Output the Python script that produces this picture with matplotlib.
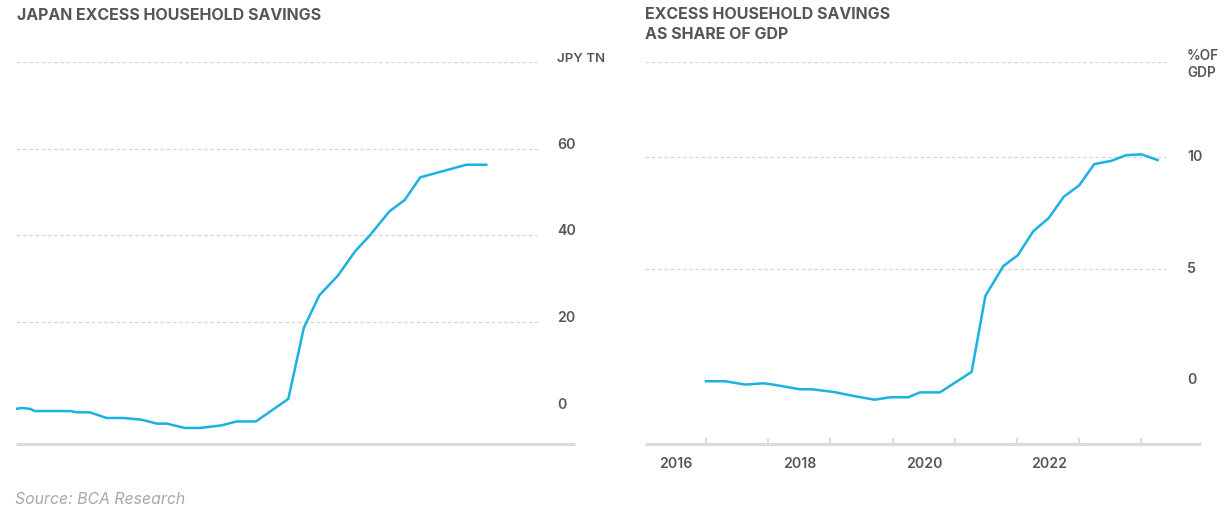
import matplotlib
matplotlib.use("Agg")
import matplotlib.pyplot as plt

# ---------------- data ----------------
left_years = [2016.00, 2016.09, 2016.22, 2016.29, 2016.84, 2016.95, 2017.14, 2017.40,
              2017.66, 2017.94, 2018.18, 2018.33, 2018.61, 2018.84, 2019.18, 2019.41,
              2019.71, 2020.21, 2020.45, 2020.69, 2020.98, 2021.24, 2021.47, 2021.77,
              2022.01, 2022.25, 2022.96, 2023.27]
left_values = [0.0, 0.2, 0.0, -0.5, -0.5, -0.8, -0.8, -2.1,
               -2.1, -2.5, -3.4, -3.4, -4.4, -4.4, -3.8, -2.9,
               -2.9, 2.3, 18.7, 26.2, 30.8, 36.3, 40.0, 45.5,
               48.2, 53.4, 56.3, 56.3]

right_years = [2016.00, 2016.31, 2016.63, 2016.92, 2017.08, 2017.51, 2017.70, 2018.05,
               2018.37, 2018.71, 2018.96, 2019.25, 2019.44, 2019.76, 2020.27, 2020.49,
               2020.78, 2021.01, 2021.26, 2021.51, 2021.75, 2022.00, 2022.24, 2022.52,
               2022.75, 2023.00, 2023.26]
right_values = [-0.06, -0.06, -0.21, -0.15, -0.21, -0.42, -0.42, -0.54,
                -0.72, -0.89, -0.78, -0.78, -0.56, -0.56, 0.36, 3.77,
                5.12, 5.60, 6.68, 7.28, 8.23, 8.75, 9.70, 9.85,
                10.10, 10.14, 9.88]

left_title = "JAPAN EXCESS HOUSEHOLD SAVINGS"
right_title = "EXCESS HOUSEHOLD SAVINGS\nAS SHARE OF GDP"
left_unit = "JPY TN"
right_unit = "%OF\nGDP"
left_yticks = [0, 20, 40, 60]
right_yticks = [0, 5, 10]
right_xticks = [2016, 2017, 2018, 2019, 2020, 2021, 2022, 2023]
right_xlabels = [2016, 2018, 2020, 2022]
source = "Source: BCA Research"

# ---------------- style ----------------
plt.rcParams["font.family"] = ["Inter", "DejaVu Sans"]
LINE = "#19b2e3"
TEXT = "#53575c"
GRID = "#d6d6d6"
BASE = "#dcdcdc"
LAB = 10.2

W, H = 1224, 512
fig = plt.figure(figsize=(W / 100, H / 100), dpi=100)

axL = fig.add_axes([16 / W, 68 / H, 522 / W, 382 / H])
axR = fig.add_axes([645 / W, 68 / H, 522 / W, 382 / H])

for ax in (axL, axR):
    for s in ax.spines.values():
        s.set_visible(False)
    ax.tick_params(axis="y", left=False, right=False, labelleft=False, labelright=False)

# ---- left chart ----
axL.plot(left_years, left_values, color=LINE, lw=1.8, solid_joinstyle="round")
axL.set_xlim(2016.0, 2024.07)
axL.set_ylim(-8.1, 80)
axL.set_xticks([])
for v in left_yticks[1:] + [80]:
    axL.axhline(v, color=GRID, lw=0.9, ls=(0, (3, 2)), zorder=0)
for v in left_yticks:
    axL.annotate(str(v), xy=(1, v), xycoords=("axes fraction", "data"),
                 xytext=(19, 0), textcoords="offset pixels", va="baseline",
                 ha="left", fontsize=LAB, fontweight="semibold", color=TEXT)
axL.annotate(left_unit, xy=(1, 80), xycoords=("axes fraction", "data"),
             xytext=(19, 0), textcoords="offset pixels", va="baseline",
             ha="left", fontsize=9.6, fontweight="semibold", color=TEXT)
axL.plot([0, 1.071], [0, 0], transform=axL.transAxes, clip_on=False,
         color=BASE, lw=2.2, solid_capstyle="butt")

# ---- right chart ----
axR.plot(right_years, right_values, color=LINE, lw=1.8, solid_joinstyle="round")
axR.set_xlim(2015.02, 2023.41)
axR.set_ylim(-2.88, 14.29)
for v in right_yticks[1:] + [14.29]:
    axR.axhline(v, color=GRID, lw=0.9, ls=(0, (3, 2)), zorder=0)
for v in right_yticks:
    axR.annotate(str(v), xy=(1, v), xycoords=("axes fraction", "data"),
                 xytext=(20, 0), textcoords="offset pixels", va="center",
                 ha="left", fontsize=LAB, fontweight="semibold", color=TEXT)
axR.annotate(right_unit, xy=(1, 14.29), xycoords=("axes fraction", "data"),
             xytext=(20, 13), textcoords="offset pixels", va="top",
             ha="left", fontsize=9.8, fontweight="semibold", color=TEXT,
             linespacing=1.3)
axR.set_xticks(right_xticks)
axR.set_xticklabels([])
axR.tick_params(axis="x", which="major", direction="in", length=4.5, width=1.5,
                color=BASE, bottom=True)
axR.set_xticks([y - 0.49 for y in right_xlabels], minor=True)
axR.set_xticklabels([str(y) for y in right_xlabels], minor=True)
axR.tick_params(axis="x", which="minor", length=0, pad=9.5, labelsize=LAB,
                labelcolor=TEXT)
for lab in axR.get_xticklabels(minor=True):
    lab.set_fontweight("semibold")
axR.plot([0, 1.065], [0, 0], transform=axR.transAxes, clip_on=False,
         color=BASE, lw=2.2, solid_capstyle="butt")

# ---- titles & source ----
fig.text(17 / W, 1 - 15 / H, left_title, ha="left", va="center",
         fontsize=11.5, fontweight="bold", color=TEXT)
fig.text(645 / W, 1 - 7 / H, right_title, ha="left", va="top",
         fontsize=11.5, fontweight="bold", color=TEXT, linespacing=1.45)
fig.text(15 / W, 1 - 499 / H, source, ha="left", va="center",
         fontsize=11.4, style="italic", color="#a8a8a8")

fig.savefig("out.png", dpi=100)
